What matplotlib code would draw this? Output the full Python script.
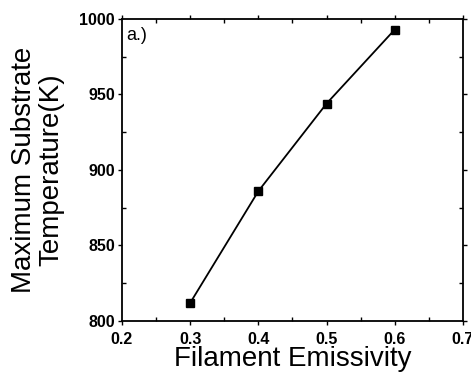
import matplotlib.pyplot as plt
from matplotlib.ticker import MultipleLocator

# filament emissivity vs. maximum substrate temperature
emissivity = [0.3, 0.4, 0.5, 0.6]
max_temp = [812, 886, 944, 993]

plt.rcParams['font.family'] = ['Liberation Sans', 'DejaVu Sans']

fig = plt.figure(figsize=(4.71, 3.79), dpi=100)
ax = fig.add_axes([0.259, 0.153, 0.724, 0.797])

ax.plot(emissivity, max_temp, color='black', lw=1.3, marker='s', ms=6,
        mfc='black', mec='black')

ax.set_xlim(0.2, 0.7)
ax.set_ylim(800, 1000)
ax.xaxis.set_major_locator(MultipleLocator(0.1))
ax.xaxis.set_minor_locator(MultipleLocator(0.05))
ax.yaxis.set_major_locator(MultipleLocator(50))
ax.yaxis.set_minor_locator(MultipleLocator(25))
ax.tick_params(axis='both', which='major', direction='out', length=3, width=1,
               labelsize=11.5, pad=2)
ax.tick_params(axis='x', which='major', pad=5)
ax.tick_params(axis='both', which='minor', direction='in', length=3, width=1)
ax.tick_params(top=True, right=True, which='both')
for lab in ax.get_xticklabels() + ax.get_yticklabels():
    lab.set_fontweight('bold')
for sp in ax.spines.values():
    sp.set_linewidth(1.3)

ax.set_xlabel('Filament Emissivity', fontsize=20, labelpad=-1)
ax.set_ylabel('Maximum Substrate\nTemperature(K)', fontsize=20, labelpad=11,
              linespacing=1.05)
ax.text(0.012, 0.975, 'a.)', transform=ax.transAxes, fontsize=13,
        ha='left', va='top')

fig.savefig('out.png', dpi=100)
